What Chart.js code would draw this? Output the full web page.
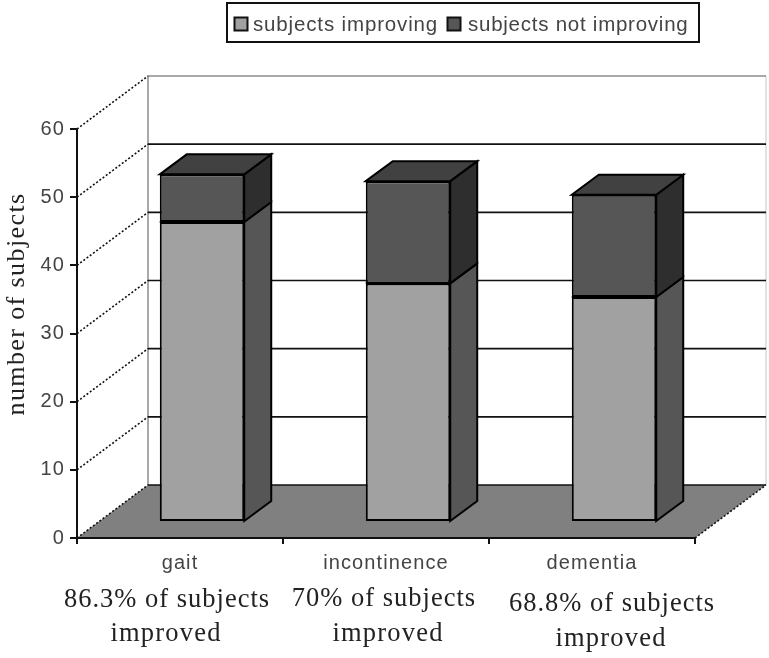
<!DOCTYPE html>
<html>
<head>
<meta charset="utf-8">
<style>html,body{margin:0;padding:0;background:#fff}canvas{display:block;filter:blur(0.4px)}</style>
<script src="https://cdn.jsdelivr.net/npm/chart.js@4"></script>
</head>
<body>
<canvas id="c" width="769" height="658"></canvas>
<script>
const categories = ['gait', 'incontinence', 'dementia'];
const improving = [44, 35, 33];
const notImproving = [7, 15, 15];
const seriesNames = ['subjects improving', 'subjects not improving'];
const axisTitle = 'number of subjects';
const noteLines = [
  ['86.3% of subjects', 'improved'],
  ['70% of subjects', 'improved'],
  ['68.8% of subjects', 'improved']
];

const WALL = {dx: 71, dy: -53};
const BAR = {dx: 22, dy: -16};
const DEPTH = {dx: 27, dy: -20};
const C = {front1: '#a1a1a1', side1: '#565656', front2: '#565656', side2: '#2e2e2e', top2: '#414141', floor: '#808080'};

function poly(ctx, pts, fill, stroke, w) {
  ctx.beginPath();
  pts.forEach((p, i) => i ? ctx.lineTo(p[0], p[1]) : ctx.moveTo(p[0], p[1]));
  ctx.closePath();
  if (fill) { ctx.fillStyle = fill; ctx.fill(); }
  if (stroke) { ctx.strokeStyle = stroke; ctx.lineWidth = w || 2; ctx.lineJoin = 'miter'; ctx.stroke(); }
}
function line(ctx, x1, y1, x2, y2, color, w, dash) {
  ctx.beginPath();
  ctx.setLineDash(dash || []);
  ctx.moveTo(x1, y1); ctx.lineTo(x2, y2);
  ctx.strokeStyle = color; ctx.lineWidth = w; ctx.stroke();
  ctx.setLineDash([]);
}
function text(ctx, s, x, y, font, color, spacing, align) {
  ctx.font = font; ctx.fillStyle = color; ctx.letterSpacing = spacing + 'px';
  ctx.textAlign = align || 'left'; ctx.textBaseline = 'alphabetic';
  ctx.fillText(s, x, y);
}

const threeD = {
  id: 'threeD',
  beforeDraw(chart) {
    const ctx = chart.ctx, y = chart.scales.y, a = chart.chartArea;
    ctx.save();
    ctx.fillStyle = '#fff'; ctx.fillRect(0, 0, 769, 658);
    const y0 = y.getPixelForValue(0), y60 = y.getPixelForValue(60);
    line(ctx, a.left + WALL.dx, y60 + WALL.dy, a.left + WALL.dx, y0 + WALL.dy, '#8c8c8c', 1.5);
    line(ctx, a.right + WALL.dx, y60 + WALL.dy, a.right + WALL.dx, y0 + WALL.dy, '#c4c4c4', 1);
    poly(ctx, [[a.left, y0], [a.left + WALL.dx, y0 + WALL.dy], [a.right + WALL.dx, y0 + WALL.dy], [a.right, y0]], C.floor);
    y.ticks.forEach(t => {
      const py = y.getPixelForValue(t.value);
      const top = t.value === 60;
      line(ctx, a.left + WALL.dx, py + WALL.dy, a.right + WALL.dx, py + WALL.dy, top ? '#8c8c8c' : '#111', top ? 1.5 : 1.6);
      line(ctx, a.left, py, a.left + WALL.dx, py + WALL.dy, '#111', 1.6, [2, 2]);
    });
    line(ctx, a.right, y0, a.right + WALL.dx, y0 + WALL.dy, '#111', 1.6, [2, 2]);
    ctx.restore();
    ctx.letterSpacing = '1.1px';
  },
  beforeDatasetsDraw(chart) {
    const ctx = chart.ctx;
    ctx.save();
    ctx.translate(BAR.dx, BAR.dy);
    const m1 = chart.getDatasetMeta(0).data, m2 = chart.getDatasetMeta(1).data;
    m1.forEach((b1, i) => {
      const b2 = m2[i];
      const r = b1.x + b1.width / 2, l = b1.x - b1.width / 2;
      const d = DEPTH;
      poly(ctx, [[r, b1.base], [r + d.dx, b1.base + d.dy], [r + d.dx, b1.y + d.dy], [r, b1.y]], C.side1, '#000', 2);
      poly(ctx, [[r, b1.y], [r + d.dx, b1.y + d.dy], [r + d.dx, b2.y + d.dy], [r, b2.y]], C.side2, '#000', 2);
      poly(ctx, [[l, b2.y], [l + d.dx, b2.y + d.dy], [r + d.dx, b2.y + d.dy], [r, b2.y]], C.top2, '#000', 2);
    });
  },
  afterDatasetsDraw(chart) {
    const ctx = chart.ctx;
    // even divider between the two stacked segments
    chart.getDatasetMeta(0).data.forEach(b => {
      line(ctx, b.x - b.width / 2, Math.round(b.y), b.x + b.width / 2, Math.round(b.y), '#000', 2);
    });
    ctx.restore();
    ctx.save();
    poly(ctx, [[227, 3], [699, 3], [699, 42], [227, 42]], '#fff', '#111', 2);
    const font = '20.5px "Liberation Sans"';
    poly(ctx, [[234.5, 17.5], [247.5, 17.5], [247.5, 30.5], [234.5, 30.5]], C.front1, '#111', 2);
    text(ctx, seriesNames[0], 253, 31, font, '#444', 0.85);
    poly(ctx, [[447.5, 17.5], [460.5, 17.5], [460.5, 30.5], [447.5, 30.5]], C.front2, '#111', 2);
    text(ctx, seriesNames[1], 468, 31, font, '#444', 0.75);
    ctx.save();
    ctx.translate(24, 304);
    ctx.rotate(-Math.PI / 2);
    text(ctx, axisTitle, 0, 0, '26px "Liberation Serif"', '#222', 1.4, 'center');
    ctx.restore();
    const serif = '26.5px "Liberation Serif"';
    text(ctx, noteLines[0][0], 167, 607, serif, '#222', 1, 'center');
    text(ctx, noteLines[0][1], 166, 641, serif, '#222', 1.2, 'center');
    text(ctx, noteLines[1][0], 384, 606, serif, '#222', 1, 'center');
    text(ctx, noteLines[1][1], 388, 641, serif, '#222', 1.2, 'center');
    text(ctx, noteLines[2][0], 612, 611, serif, '#222', 1, 'center');
    text(ctx, noteLines[2][1], 611, 646, serif, '#222', 1.2, 'center');
    ctx.restore();
  }
};

new Chart(document.getElementById('c'), {
  type: 'bar',
  data: {
    labels: categories,
    datasets: [
      {label: seriesNames[0], data: improving, backgroundColor: C.front1, borderColor: '#000', borderWidth: 2, borderSkipped: false, clip: false},
      {label: seriesNames[1], data: notImproving, backgroundColor: C.front2, borderColor: '#000', borderWidth: 2, borderSkipped: false, clip: false}
    ]
  },
  options: {
    responsive: false,
    animation: false,
    devicePixelRatio: 1,
    layout: {padding: {left: 0, right: 74, top: 129, bottom: 0}},
    datasets: {bar: {barPercentage: 1, categoryPercentage: 0.41}},
    plugins: {legend: {display: false}, title: {display: false}, tooltip: {enabled: false}},
    scales: {
      x: {
        stacked: true,
        afterFit(s) { s.height = 120; },
        grid: {drawOnChartArea: false, drawTicks: true, tickLength: 6, color: '#111', lineWidth: 2},
        border: {display: true, color: '#111', width: 2},
        ticks: {color: '#444', font: {family: 'Liberation Sans', size: 20}, padding: 7, maxRotation: 0, autoSkip: false}
      },
      y: {
        stacked: true,
        min: 0, max: 60,
        afterFit(s) { s.width = 77; },
        grid: {drawOnChartArea: false, drawTicks: true, tickLength: 7, color: '#111', lineWidth: 2},
        border: {display: true, color: '#111', width: 2},
        ticks: {stepSize: 10, color: '#444', font: {family: 'Liberation Sans', size: 20}, padding: 5}
      }
    }
  },
  plugins: [threeD]
});
</script>
</body>
</html>
